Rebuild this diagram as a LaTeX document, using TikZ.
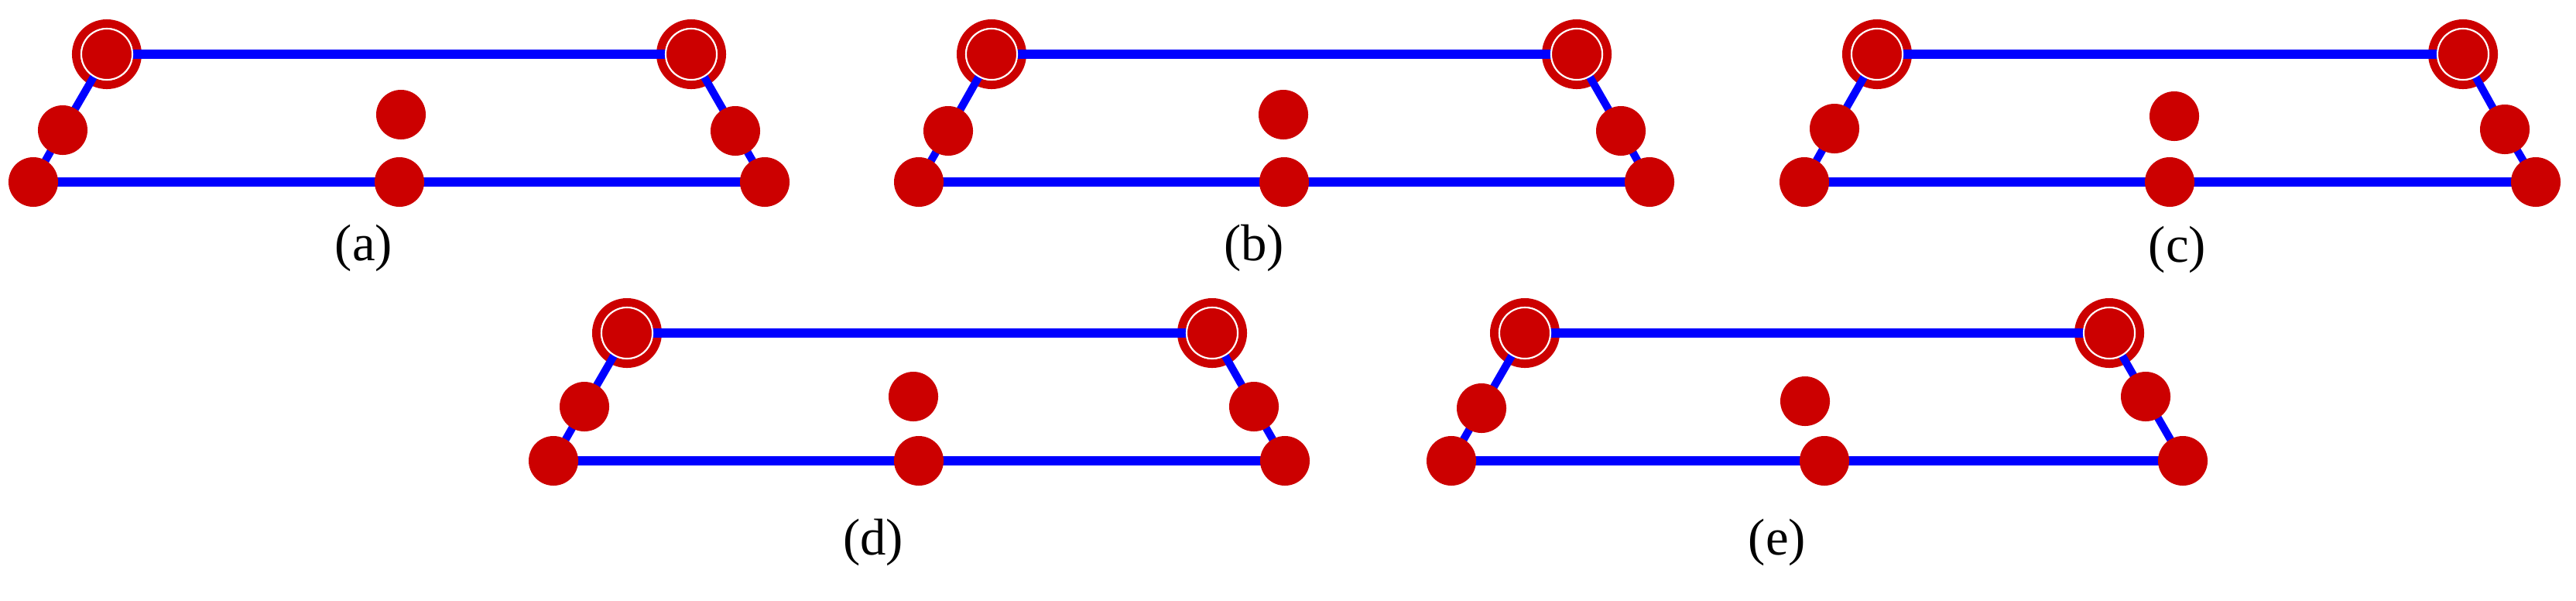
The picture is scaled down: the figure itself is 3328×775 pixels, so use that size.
\documentclass[tikz,border=0pt]{standalone}
\usepackage{fontspec}
\setmainfont{Liberation Serif}
\definecolor{DotRed}{RGB}{204, 0, 0}
\definecolor{BondBlue}{RGB}{0, 0, 255}
\usepackage{tikz}
\usetikzlibrary{backgrounds}

\begin{document}
\begin{tikzpicture}[x=0.01cm, y=-0.01cm,
    dot/.style={circle, fill=DotRed, minimum size=0.64cm, inner sep=0pt},
    hub/.style={dot, draw=white, line width=0.6pt, minimum size=0.66cm},
    ring/.style={draw=DotRed, line width=0.11cm},
    bond/.style={draw=BondBlue, line width=0.12cm},
    side/.style={bond, line width=0.1cm},
    panellabel/.style={font=\fontsize{19}{23}\selectfont}]
    \useasboundingbox (0,0) rectangle (3328,775);
    % (a)
    \node[hub] (atl) at (138,70) {};
    \node[hub] (atr) at (893,70) {};
    \node[dot] (aml) at (81,168) {};
    \node[dot] (abl) at (43,235) {};
    \node[dot] (amc) at (518,148) {};
    \node[dot] (abc) at (516,235) {};
    \node[dot] (amr) at (950,169) {};
    \node[dot] (abr) at (988,235) {};
    \node[panellabel] (alab) at (470,320) {(a)};
    % (b)
    \node[hub] (btl) at (1281,70) {};
    \node[hub] (btr) at (2037,70) {};
    \node[dot] (bml) at (1225,169) {};
    \node[dot] (bbl) at (1187,235) {};
    \node[dot] (bmc) at (1658,148) {};
    \node[dot] (bbc) at (1659,235) {};
    \node[dot] (bmr) at (2094,169) {};
    \node[dot] (bbr) at (2131,235) {};
    \node[panellabel] (blab) at (1620,320) {(b)};
    % (c)
    \node[hub] (ctl) at (2425,70) {};
    \node[hub] (ctr) at (3182,70) {};
    \node[dot] (cml) at (2370,166) {};
    \node[dot] (cbl) at (2331,235) {};
    \node[dot] (cmc) at (2809,150) {};
    \node[dot] (cbc) at (2803,235) {};
    \node[dot] (cmr) at (3236,167) {};
    \node[dot] (cbr) at (3276,235) {};
    \node[panellabel] (clab) at (2813,322) {(c)};
    % (d)
    \node[hub] (dtl) at (810,430) {};
    \node[hub] (dtr) at (1566,430) {};
    \node[dot] (dml) at (755,525) {};
    \node[dot] (dbl) at (715,595) {};
    \node[dot] (dmc) at (1180,512) {};
    \node[dot] (dbc) at (1187,595) {};
    \node[dot] (dmr) at (1620,525) {};
    \node[dot] (dbr) at (1660,595) {};
    \node[panellabel] (dlab) at (1128,700) {(d)};
    % (e)
    \node[hub] (etl) at (1970,430) {};
    \node[hub] (etr) at (2725,430) {};
    \node[dot] (eml) at (1914,527) {};
    \node[dot] (ebl) at (1875,595) {};
    \node[dot] (emc) at (2332,518) {};
    \node[dot] (ebc) at (2357,595) {};
    \node[dot] (emr) at (2772,512) {};
    \node[dot] (ebr) at (2820,595) {};
    \node[panellabel] (elab) at (2296,700) {(e)};
    \begin{scope}[on background layer]
        \foreach \p in {a,b,c,d,e} {
            \draw[ring] (\p tl.center) circle (0.395cm);
            \draw[ring] (\p tr.center) circle (0.395cm);
            \draw[bond] (\p tl.center) -- (\p tr.center);
            \draw[bond] (\p bl.center) -- (\p bc.center) -- (\p br.center);
            \draw[side] (\p tl.center) -- (\p ml.center) -- (\p bl.center);
            \draw[side] (\p tr.center) -- (\p mr.center) -- (\p br.center);
        }
    \end{scope}
\end{tikzpicture}
\end{document}
